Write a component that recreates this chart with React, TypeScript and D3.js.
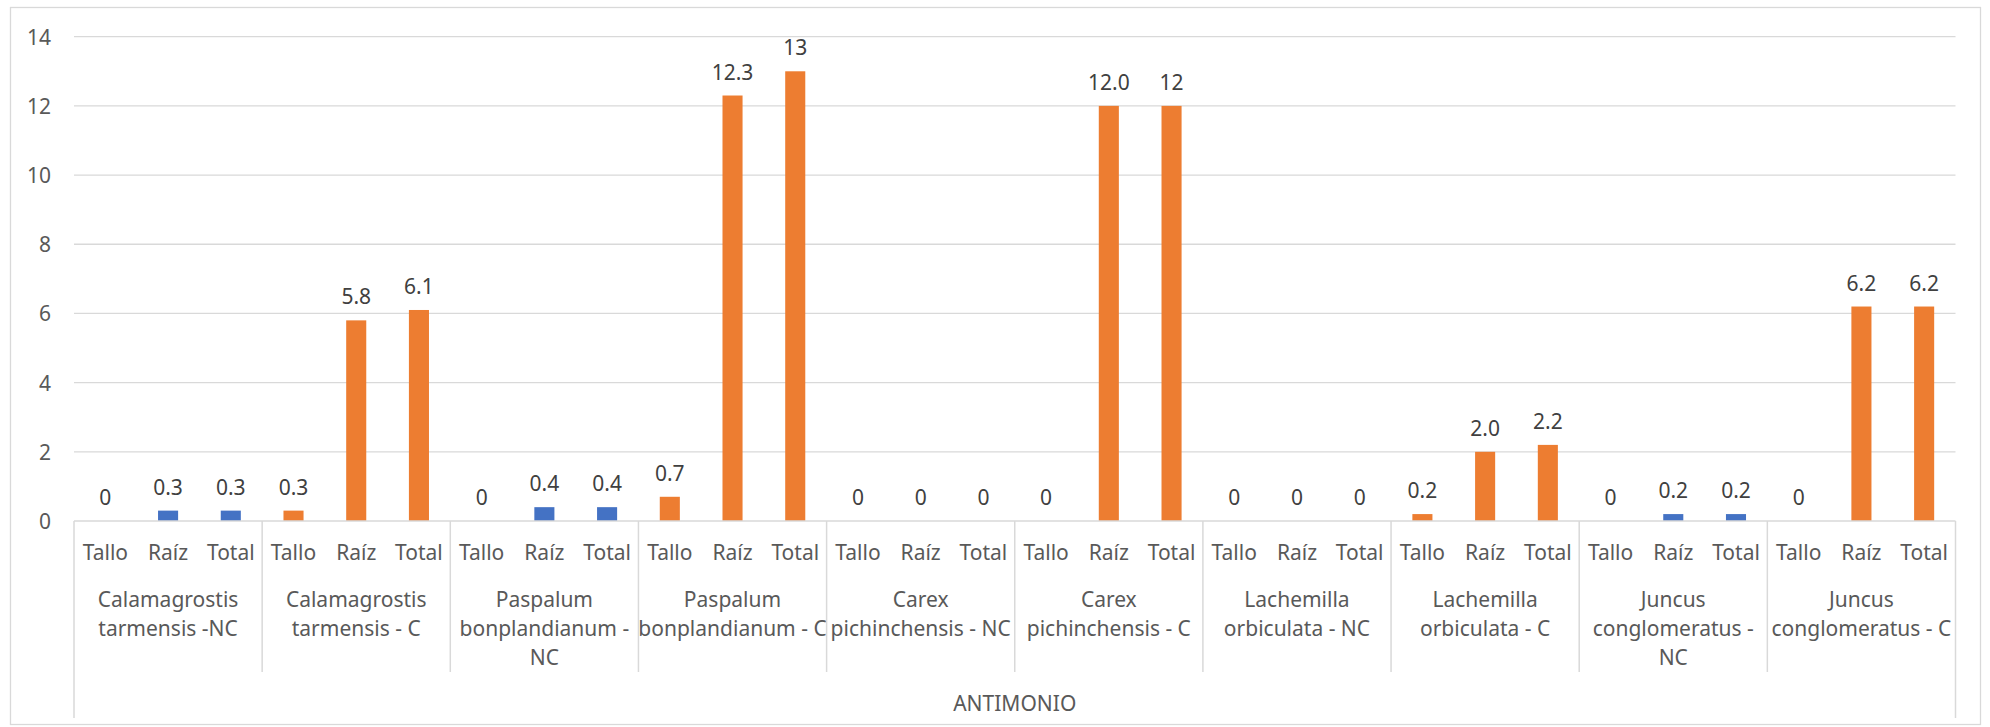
import * as d3 from 'd3';
import React, { useEffect, useRef } from 'react';

const groups = [
  'Calamagrostis\ntarmensis -NC',
  'Calamagrostis\ntarmensis - C',
  'Paspalum\nbonplandianum -\nNC',
  'Paspalum\nbonplandianum - C',
  'Carex\npichinchensis - NC',
  'Carex\npichinchensis - C',
  'Lachemilla\norbiculata - NC',
  'Lachemilla\norbiculata - C',
  'Juncus\nconglomeratus -\nNC',
  'Juncus\nconglomeratus - C'
];
const parts = ['Tallo', 'Raíz', 'Total'];
const isControl = [false, true, false, true, false, true, false, true, false, true];
const values = [
  [0, 0.3, 0.3],
  [0.3, 5.8, 6.1],
  [0, 0.4, 0.4],
  [0.7, 12.3, 13],
  [0, 0, 0],
  [0, 12.0, 12],
  [0, 0, 0],
  [0.2, 2.0, 2.2],
  [0, 0.2, 0.2],
  [0, 6.2, 6.2]
];
const valueLabels = [
  ['0', '0.3', '0.3'],
  ['0.3', '5.8', '6.1'],
  ['0', '0.4', '0.4'],
  ['0.7', '12.3', '13'],
  ['0', '0', '0'],
  ['0', '12.0', '12'],
  ['0', '0', '0'],
  ['0.2', '2.0', '2.2'],
  ['0', '0.2', '0.2'],
  ['0', '6.2', '6.2']
];
const yTicks = [0, 2, 4, 6, 8, 10, 12, 14];
const metal = 'ANTIMONIO';

const W = 1990;
const H = 727;
const FONT = '"Noto Sans", sans-serif';
const FS = 21;

const App = () => {
  const ref = useRef<SVGSVGElement>(null);

  useEffect(() => {
    document.body.style.margin = '0';
    const svg = d3.select(ref.current);
    svg.selectAll('*').remove();

    const left = 74;
    const right = 1955.5;
    const top = 36.7;
    const bottom = 521;

    // chart frame
    svg
      .append('rect')
      .attr('x', 10.5)
      .attr('y', 7.5)
      .attr('width', 1970)
      .attr('height', 717)
      .attr('fill', 'white')
      .attr('stroke', '#d9d9d9')
      .attr('stroke-width', 1.3);

    const y = d3.scaleLinear().domain([0, 14]).range([bottom, top]);

    const x0 = d3
      .scaleBand<number>()
      .domain(d3.range(groups.length))
      .range([left, right])
      .padding(0);

    const x1 = d3
      .scaleBand<string>()
      .domain(parts)
      .range([0, x0.bandwidth()])
      .paddingInner(0.68)
      .paddingOuter(0.34);

    // gridlines
    svg
      .append('g')
      .selectAll('line')
      .data(yTicks.filter((t) => t > 0))
      .enter()
      .append('line')
      .attr('x1', left)
      .attr('x2', right)
      .attr('y1', (d) => y(d))
      .attr('y2', (d) => y(d))
      .attr('stroke', '#d9d9d9')
      .attr('stroke-width', 1.3);

    // y labels
    svg
      .append('g')
      .selectAll('text')
      .data(yTicks)
      .enter()
      .append('text')
      .attr('x', 51)
      .attr('y', (d) => y(d))
      .attr('text-anchor', 'end')
      .attr('dominant-baseline', 'central')
      .attr('font-family', FONT)
      .attr('font-size', FS)
      .attr('fill', '#595959')
      .text((d) => d);

    // bars
    const g = svg
      .selectAll('.grp')
      .data(values)
      .enter()
      .append('g')
      .attr('class', 'grp')
      .attr('transform', (_, i) => `translate(${x0(i)},0)`);

    g.selectAll('rect')
      .data((d, i) => d.map((v, j) => ({ v, j, i })))
      .enter()
      .append('rect')
      .attr('x', (d) => x1(parts[d.j]))
      .attr('width', x1.bandwidth())
      .attr('y', (d) => y(d.v))
      .attr('height', (d) => bottom - y(d.v))
      .attr('fill', (d) => (isControl[d.i] ? '#ED7D31' : '#4472C4'));

    g.selectAll('text.val')
      .data((d, i) => d.map((v, j) => ({ v, j, i })))
      .enter()
      .append('text')
      .attr('class', 'val')
      .attr('x', (d) => x1(parts[d.j]) + x1.bandwidth() / 2)
      .attr('y', (d) => y(d.v) - 24)
      .attr('text-anchor', 'middle')
      .attr('dominant-baseline', 'central')
      .attr('font-family', FONT)
      .attr('font-size', FS)
      .attr('fill', '#404040')
      .text((d) => valueLabels[d.i][d.j]);

    // axis baseline
    svg
      .append('line')
      .attr('x1', left)
      .attr('x2', right)
      .attr('y1', bottom)
      .attr('y2', bottom)
      .attr('stroke', '#d9d9d9')
      .attr('stroke-width', 1.5);

    // part labels
    g.selectAll('text.part')
      .data(parts)
      .enter()
      .append('text')
      .attr('class', 'part')
      .attr('x', (d) => x1(d) + x1.bandwidth() / 2)
      .attr('y', 552)
      .attr('text-anchor', 'middle')
      .attr('dominant-baseline', 'central')
      .attr('font-family', FONT)
      .attr('font-size', FS)
      .attr('fill', '#595959')
      .text((d) => d);

    // group labels
    g.append('text')
      .attr('text-anchor', 'middle')
      .attr('font-family', FONT)
      .attr('font-size', FS)
      .attr('fill', '#595959')
      .selectAll('tspan')
      .data((_, i) => groups[i].split('\n'))
      .enter()
      .append('tspan')
      .attr('x', x0.bandwidth() / 2)
      .attr('y', (_, k) => 599 + k * 29)
      .attr('dominant-baseline', 'central')
      .text((d) => d);

    // group dividers
    const bounds = d3.range(groups.length + 1).map((i) => left + i * x0.step());
    svg
      .append('g')
      .selectAll('line')
      .data(bounds)
      .enter()
      .append('line')
      .attr('x1', (d) => d)
      .attr('x2', (d) => d)
      .attr('y1', bottom)
      .attr('y2', (_, i) => (i === 0 || i === groups.length ? 718 : 672))
      .attr('stroke', '#d9d9d9')
      .attr('stroke-width', 1.5);

    svg
      .append('text')
      .attr('x', (left + right) / 2)
      .attr('y', 703)
      .attr('text-anchor', 'middle')
      .attr('dominant-baseline', 'central')
      .attr('font-family', FONT)
      .attr('font-size', FS)
      .attr('fill', '#595959')
      .text(metal);
  }, []);

  return <svg ref={ref} width={W} height={H} style={{ display: 'block' }} />;
};

export default App;
